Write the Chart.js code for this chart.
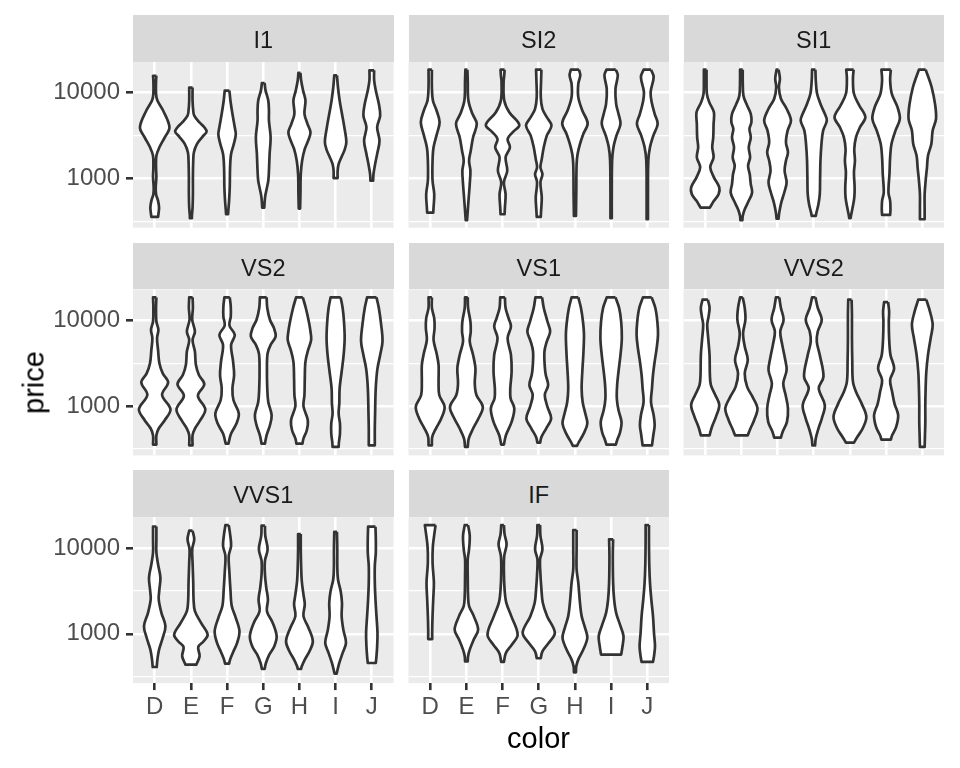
<!DOCTYPE html>
<html>
<head>
<meta charset="utf-8">
<script src="https://cdn.jsdelivr.net/npm/chart.js@4.4.1/dist/chart.umd.min.js"></script>
<style>
  html, body { margin:0; padding:0; background:#FFFFFF; }
  #wrap { position:relative; width:960px; height:768px; overflow:hidden; font-family:"Liberation Sans", Arial, Helvetica, sans-serif; }
  #wrap canvas { position:absolute; left:0; top:0; }
  .strip { position:absolute; background:#D9D9D9; color:#1A1A1A; font-size:23.5px; text-align:center; white-space:nowrap; }
  .strip span { position:relative; top:2px; }
  .axis-title { position:absolute; color:#000000; font-size:29px; text-align:center; white-space:nowrap; }
</style>
</head>
<body>
<div id="wrap"></div>
<script>
// ---------- data ----------
const CLARITY = ['I1', 'SI2', 'SI1', 'VS2', 'VS1', 'VVS2', 'VVS1', 'IF'];
const COLORS = ['D', 'E', 'F', 'G', 'H', 'I', 'J'];
const Y_BREAKS = [1000, 10000];
const Y_MINOR_BREAKS = [316, 3162];
const PRICE_MIN = 326;
const PRICE_MAX = 18823;

// Violin outlines: [price, relative density], top to bottom, one list per color D..J
const I1 = [
  [[15800,5],[14000,4],[9730,4],[8130,8],[6210,25],[3960,44],[3020,30],[2310,14],[1840,5],[1350,4],[1030,5],[785,3],[655,4],[548,10],[457,13],[382,11],[356,10]],
  [[11500,5],[8130,5],[6210,7],[5420,10],[4530,25],[3960,40],[3520,47],[3080,35],[2520,18],[2020,9],[1610,7],[1030,6],[655,6],[457,5],[365,3],[343,3]],
  [[10600,7],[8130,10],[5680,16],[3960,23],[3250,26],[2520,20],[1930,12],[1350,9],[785,8],[548,6],[437,4],[382,3]],
  [[13000,4],[10600,7],[8130,15],[6210,17],[4740,17],[3020,22],[1930,19],[1230,17],[940,15],[750,10],[626,6],[523,4],[457,3]],
  [[17100,3],[14000,5],[10600,11],[8130,18],[5680,15],[4340,24],[3460,33],[2760,26],[2210,16],[1610,8],[1120,4],[655,3],[445,2]],
  [[16000,4],[11600,7],[8130,12],[5680,19],[3960,26],[2640,32],[2110,26],[1760,17],[1470,9],[1230,6],[1010,6]],
  [[18300,7],[14000,7],[10600,12],[7430,21],[5420,25],[3960,16],[2760,23],[1930,16],[1470,10],[1120,5],[940,4]]
];
const SI2 = [
  [[18600,5],[11600,5],[8130,8],[6210,19],[4530,28],[3310,20],[2310,10],[1610,7],[940,7],[655,12],[457,10],[400,9]],
  [[18600,3],[14000,4],[8130,6],[5680,18],[4340,31],[3020,20],[2110,13],[1610,8],[1230,12],[860,10],[599,7],[418,4],[326,2]],
  [[18600,6],[16000,5],[13300,3],[8130,5],[5930,20],[4220,50],[3460,30],[2890,15],[2310,22],[1760,9],[1230,14],[900,4],[655,9],[457,7],[382,6]],
  [[18600,8],[14000,7],[8900,6],[6500,11],[5190,24],[4140,38],[3160,24],[2310,15],[1690,9],[1350,5],[1120,11],[900,5],[599,9],[418,7],[356,6]],
  [[18600,12],[16000,16],[12700,10],[8900,10],[6210,22],[4410,38],[3310,25],[2520,15],[1930,8],[1470,5],[655,4],[365,3]],
  [[18600,14],[16000,20],[11100,13],[7430,15],[5680,22],[4340,28],[3160,16],[2310,7],[1610,3],[655,2],[343,2]],
  [[18600,11],[15300,19],[10200,10],[7780,13],[5680,22],[4340,31],[3160,18],[2310,8],[1610,3],[655,2],[334,2]]
];
const SI1 = [
  [[18600,4],[14000,4],[9730,5],[7780,12],[5930,26],[4340,25],[3020,24],[2310,21],[1760,25],[1350,15],[1030,26],[785,42],[655,40],[548,26],[457,14]],
  [[18600,4],[14000,4],[9310,6],[7430,15],[5680,28],[4530,30],[3790,24],[3020,28],[2310,22],[1760,26],[1410,20],[1120,25],[860,28],[685,32],[548,22],[437,10],[365,4],[326,3]],
  [[18600,3],[14600,7],[11600,4],[8510,10],[6500,27],[4740,40],[3620,30],[2640,25],[2020,31],[1610,25],[1230,21],[900,27],[685,20],[523,11],[400,5],[340,3]],
  [[18600,5],[14000,6],[9730,10],[7110,22],[5680,33],[4740,39],[3620,28],[2520,23],[1610,20],[1030,19],[655,18],[500,14],[400,8],[365,6]],
  [[18600,11],[14600,9],[9730,12],[7110,28],[5190,46],[3960,30],[3020,18],[2210,13],[1610,15],[1180,12],[785,14],[599,13],[457,8],[382,4],[343,2]],
  [[18600,14],[14000,12],[9730,17],[6790,34],[4960,41],[3620,28],[2520,16],[1760,12],[1120,10],[685,7],[548,12],[437,13],[375,12]],
  [[18600,10],[15300,18],[11600,28],[7430,38],[4960,41],[3620,31],[2520,27],[1840,17],[1350,14],[940,10],[655,7],[457,7],[334,7]]
];
const VS2 = [
  [[18600,5],[14000,4],[9730,5],[7780,11],[6210,7],[4530,10],[3160,14],[2410,24],[1890,40],[1350,22],[920,47],[685,30],[548,12],[457,5],[356,5]],
  [[18600,5],[14000,6],[10200,4],[7430,12],[5930,5],[4340,12],[3020,15],[2310,24],[1800,40],[1320,21],[920,43],[685,28],[548,12],[457,5],[349,5]],
  [[18600,8],[14600,11],[11100,11],[8740,7],[6790,23],[5190,12],[3310,18],[2310,21],[1610,16],[1180,19],[820,35],[626,28],[478,12],[365,4]],
  [[18600,10],[14000,12],[10200,20],[8130,32],[6500,37],[5190,22],[4140,13],[2760,11],[1610,12],[1120,15],[785,25],[599,20],[457,10],[365,5]],
  [[18600,10],[14000,19],[9730,28],[7430,33],[5930,35],[4530,26],[3310,18],[2110,16],[1350,15],[1000,12],[685,25],[523,22],[418,12],[365,9]],
  [[18600,15],[14000,21],[9730,25],[6210,27],[3960,24],[2520,18],[1610,12],[1070,11],[820,9],[626,13],[478,13],[382,10],[334,9]],
  [[18600,14],[14000,21],[8900,28],[5680,32],[3960,25],[2760,17],[1930,13],[1350,11],[860,10],[548,9],[349,9]]
];
const VS1 = [
  [[18600,5],[14000,5],[10600,12],[8130,13],[5930,10],[4140,19],[3020,25],[1930,25],[1350,27],[980,43],[717,33],[548,17],[437,6],[349,5]],
  [[18600,4],[14000,5],[9730,12],[7430,13],[5680,10],[3960,20],[2760,27],[1840,25],[1350,30],[980,49],[717,36],[548,20],[418,7],[334,4]],
  [[18600,7],[14000,9],[10600,18],[8510,25],[6210,15],[3960,25],[2520,27],[1610,23],[1230,24],[940,35],[655,27],[457,10],[356,4]],
  [[18600,10],[14000,15],[9730,26],[7430,34],[5680,24],[4340,17],[2890,18],[2310,21],[1760,28],[1350,18],[980,26],[717,37],[548,22],[437,8],[375,4]],
  [[18600,10],[14000,18],[9730,24],[6790,27],[3960,25],[2520,22],[1610,20],[1120,23],[820,31],[626,37],[478,26],[382,12],[343,6]],
  [[18600,13],[14000,24],[9730,30],[6210,32],[3960,28],[2520,22],[1760,18],[1230,17],[900,22],[655,31],[500,27],[400,18],[356,14]],
  [[18600,13],[14000,24],[9730,30],[6790,32],[4740,28],[3310,22],[2310,17],[1610,14],[1120,11],[785,19],[599,22],[457,18],[349,14]]
];
const VVS2 = [
  [[17500,8],[14000,13],[11100,10],[8900,6],[6210,9],[3960,13],[2310,14],[1760,17],[1350,30],[1030,42],[750,32],[572,20],[457,13]],
  [[18600,4],[14000,10],[10200,12],[7110,5],[4960,10],[3460,19],[2410,10],[1690,17],[1290,33],[940,48],[685,38],[548,27],[457,19]],
  [[18600,5],[14000,10],[10200,18],[7430,8],[5190,14],[3620,22],[2640,27],[1840,17],[1350,24],[940,31],[655,28],[500,15],[429,10]],
  [[18600,5],[14000,12],[10200,24],[7430,12],[5680,9],[3960,18],[2210,29],[1610,15],[1030,33],[717,24],[548,14],[418,6],[349,4]],
  [[17500,5],[11600,6],[6210,6],[3310,7],[1930,9],[1470,18],[1070,35],[750,49],[548,38],[437,22],[375,12]],
  [[16400,6],[12700,9],[9730,8],[6210,9],[3960,13],[2760,24],[2020,12],[1470,18],[1070,25],[785,36],[572,30],[457,18],[407,14]],
  [[17500,12],[12700,23],[8900,31],[6210,25],[3960,17],[2520,12],[1610,10],[1030,9],[655,9],[457,8],[334,7]]
];
const VVS1 = [
  [[17900,5],[12700,5],[8900,5],[6500,10],[4530,17],[3310,14],[2520,12],[1760,20],[1230,32],[900,24],[655,13],[500,8],[410,6]],
  [[16000,5],[12700,10],[9730,4],[6790,5],[3960,7],[2520,8],[1840,12],[1350,30],[980,50],[820,38],[703,22],[548,26],[437,16]],
  [[18600,5],[14600,9],[10600,12],[8130,5],[5190,7],[3310,10],[2110,14],[1540,26],[1070,37],[785,30],[599,17],[500,9],[449,6]],
  [[18300,5],[14000,6],[9730,13],[7110,5],[4960,5],[3460,9],[2520,14],[1840,11],[1350,28],[940,40],[717,33],[572,18],[457,8],[389,4]],
  [[14600,4],[9730,4],[6210,5],[4140,7],[2890,12],[2210,16],[1610,12],[1180,27],[820,40],[626,30],[500,16],[418,7],[389,5]],
  [[15500,4],[9730,5],[6210,5],[4340,7],[3160,15],[2310,19],[1610,18],[1120,23],[785,31],[599,21],[457,11],[343,3]],
  [[17800,11],[12700,12],[8900,12],[6210,9],[3960,9],[2520,11],[1610,14],[1030,17],[717,16],[548,14],[457,12]]
];
const IF = [
  [[18600,16],[15300,13],[10600,8],[6790,7],[3960,11],[2520,9],[1610,7],[1120,6],[870,6]],
  [[18600,5],[14000,10],[9730,8],[7430,4],[4740,4],[2760,5],[2110,8],[1610,22],[1120,35],[860,22],[655,10],[548,5],[478,4]],
  [[18600,4],[14600,6],[11100,12],[8130,5],[5190,4],[3310,6],[2310,11],[1610,26],[980,45],[750,28],[599,10],[470,4]],
  [[18600,4],[14000,5],[9730,11],[7430,4],[4960,5],[3310,8],[2310,12],[1610,25],[1030,48],[785,30],[626,11],[519,6]],
  [[16300,5],[9730,5],[5680,5],[3960,10],[2310,15],[1610,20],[1180,30],[900,37],[655,25],[500,10],[418,4],[356,3]],
  [[12700,6],[8130,5],[3960,6],[2520,9],[1760,15],[1230,28],[940,37],[717,34],[572,30]],
  [[18600,5],[11600,5],[6210,6],[3960,8],[2520,12],[1610,17],[1030,20],[717,23],[548,20],[470,17]]
];
const VIOLINS = [I1, SI2, SI1, VS2, VS1, VVS2, VVS1, IF];

// ---------- layout / style ----------
const COL_X = [133, 408.5, 683.5];
const ROW_Y = [61.7, 289.4, 517.1];
const PANEL_W = 260.5, PANEL_H = 166, STRIP_H = 46.7;
const LINE_W = 2.7, GRID_W = 2.6, TICK_LEN = 7;
const TICK_FONT = 24;
const X_AXIS_H = 50;
const DENSITY_SCALE = 1 / 108;   // relative density -> half-width in category units

const Y_LIMITS = (() => {
  const lo = Math.log10(PRICE_MIN), hi = Math.log10(PRICE_MAX), e = (hi - lo) * 0.05;
  return [Math.pow(10, lo - e), Math.pow(10, hi + e)];
})();
const X_LIMITS = [0.4, COLORS.length + 0.6];
const Y_TICKS = [...Y_MINOR_BREAKS, ...Y_BREAKS].sort((a, b) => a - b);
const isMajorY = v => Y_BREAKS.includes(v);

function violinOutline(nodes, center) {
  const right = nodes.map(([p, d]) => ({ x: center + d * DENSITY_SCALE, y: p }));
  const left = nodes.map(([p, d]) => ({ x: center - d * DENSITY_SCALE, y: p })).reverse();
  const top = right[0], bottom = right[right.length - 1];
  const lb = left[0], lt = left[left.length - 1];
  return [top, ...right, bottom, lb, ...left, lt, top];
}

const panelBackground = {
  id: 'panelBackground',
  beforeDraw(chart) {
    const { ctx, chartArea: a } = chart;
    ctx.save();
    ctx.fillStyle = '#EBEBEB';
    ctx.fillRect(a.left, a.top, a.right - a.left, a.bottom - a.top);
    ctx.restore();
  }
};

Chart.defaults.font.family = '"Liberation Sans", Arial, Helvetica, sans-serif';
const wrap = document.getElementById('wrap');

VIOLINS.forEach((violins, idx) => {
  const col = idx % 3, row = Math.floor(idx / 3);
  const L = COL_X[col], T = ROW_Y[row];
  const B = T + PANEL_H;
  const showY = col === 0;
  const showX = idx >= CLARITY.length - 2;
  const yAxisW = showY ? L : 0;
  const xAxisH = showX ? X_AXIS_H : 0;

  const canvas = document.createElement('canvas');
  canvas.width = 960; canvas.height = 768;
  canvas.style.width = '960px'; canvas.style.height = '768px';
  wrap.appendChild(canvas);

  new Chart(canvas.getContext('2d'), {
    type: 'line',
    data: {
      datasets: violins.map((nodes, i) => ({
        label: CLARITY[idx] + ' ' + COLORS[i],
        data: violinOutline(nodes, i + 1),
        borderColor: '#333333',
        borderWidth: LINE_W,
        backgroundColor: '#FFFFFF',
        fill: 'shape',
        tension: 0.35,
        pointRadius: 0,
        pointHoverRadius: 0,
        borderJoinStyle: 'round'
      }))
    },
    options: {
      responsive: false,
      animation: false,
      devicePixelRatio: 1,
      events: [],
      layout: { padding: { left: L - yAxisW, top: T, right: 960 - L - PANEL_W, bottom: 768 - B - xAxisH } },
      plugins: { legend: { display: false }, tooltip: { enabled: false }, title: { display: false } },
      scales: {
        x: {
          type: 'linear', min: X_LIMITS[0], max: X_LIMITS[1],
          afterBuildTicks: s => { s.ticks = COLORS.map((c, i) => ({ value: i + 1 })); },
          afterFit: s => { s.height = xAxisH; },
          border: { display: false },
          grid: { color: '#FFFFFF', lineWidth: GRID_W, drawTicks: showX, tickLength: TICK_LEN, tickColor: '#333333', tickWidth: GRID_W },
          ticks: { display: showX, autoSkip: false, maxRotation: 0, minRotation: 0, padding: 3, color: '#4D4D4D', font: { size: TICK_FONT },
                   callback: (v, i) => COLORS[i] }
        },
        y: {
          type: 'logarithmic', min: Y_LIMITS[0], max: Y_LIMITS[1],
          afterBuildTicks: s => { s.ticks = Y_TICKS.map(v => ({ value: v })); },
          afterFit: s => { s.width = yAxisW; },
          border: { display: false },
          grid: {
            color: '#FFFFFF',
            lineWidth: c => (c.tick && isMajorY(c.tick.value)) ? GRID_W : GRID_W / 2,
            drawTicks: showY, tickLength: TICK_LEN,
            tickColor: c => (c.tick && isMajorY(c.tick.value)) ? '#333333' : 'rgba(0,0,0,0)',
            tickWidth: GRID_W
          },
          ticks: { display: showY, autoSkip: false, padding: 6, color: '#4D4D4D', font: { size: TICK_FONT },
                   callback: v => isMajorY(v) ? String(v) : '' }
        }
      }
    },
    plugins: [panelBackground]
  });

  const strip = document.createElement('div');
  strip.className = 'strip';
  strip.style.left = L + 'px';
  strip.style.top = (T - STRIP_H) + 'px';
  strip.style.width = PANEL_W + 'px';
  strip.style.height = STRIP_H + 'px';
  strip.style.lineHeight = STRIP_H + 'px';
  const span = document.createElement('span');
  span.textContent = CLARITY[idx];
  strip.appendChild(span);
  wrap.appendChild(strip);
});

// axis titles
const xTitle = document.createElement('div');
xTitle.className = 'axis-title';
xTitle.textContent = 'color';
xTitle.style.left = (538.5 - 150) + 'px';
xTitle.style.top = '723.5px';
xTitle.style.width = '300px';
xTitle.style.height = '29px';
xTitle.style.lineHeight = '29px';
wrap.appendChild(xTitle);

const yTitle = document.createElement('div');
yTitle.className = 'axis-title';
yTitle.textContent = 'price';
yTitle.style.left = (34 - 100) + 'px';
yTitle.style.top = (382 - 14.5) + 'px';
yTitle.style.width = '200px';
yTitle.style.height = '29px';
yTitle.style.lineHeight = '29px';
yTitle.style.transform = 'rotate(-90deg)';
wrap.appendChild(yTitle);
</script>
</body>
</html>
